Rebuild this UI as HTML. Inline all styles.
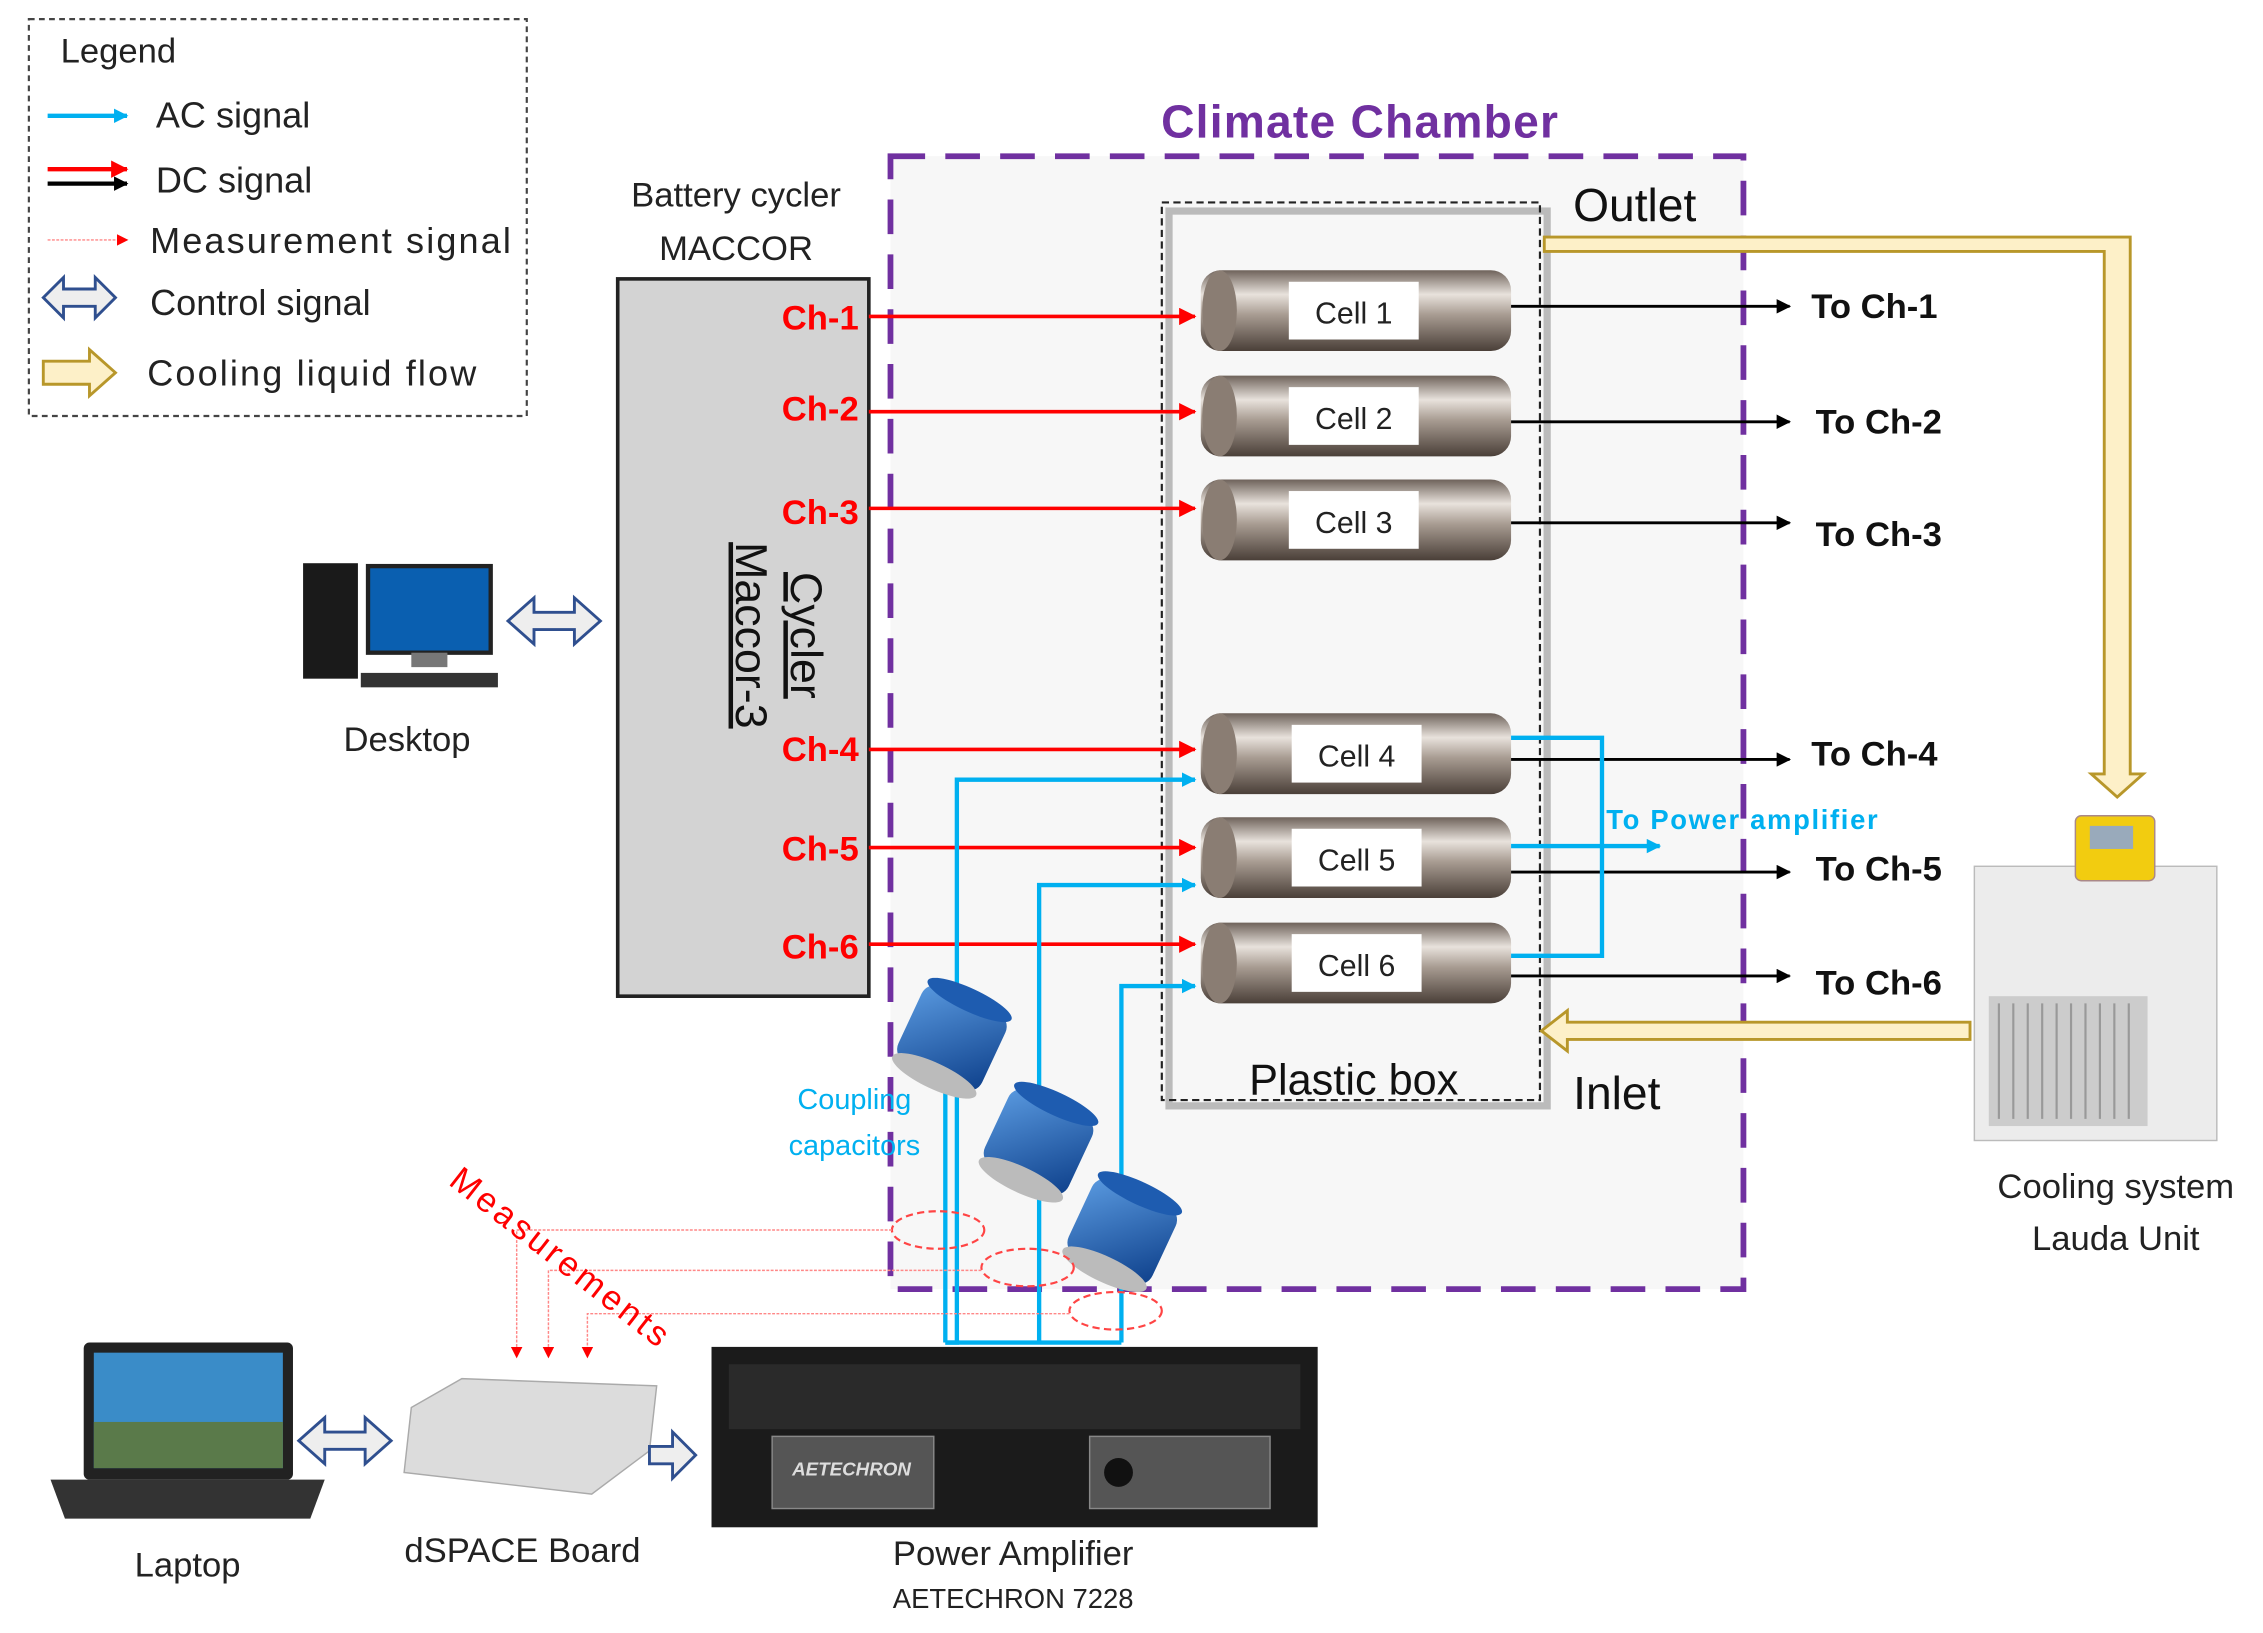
<!DOCTYPE html>
<html><head><meta charset="utf-8"><style>
html,body{margin:0;padding:0;background:#fff}
svg{display:block}
text{font-family:"Liberation Sans",sans-serif}
</style></head><body>
<svg width="2263" height="1633" viewBox="0 0 1568 1131" xmlns="http://www.w3.org/2000/svg">
<defs>
<marker id="ar" markerWidth="8" markerHeight="8" refX="7" refY="4" orient="auto" markerUnits="userSpaceOnUse"><path d="M0,0 L8,4 L0,8z" fill="#f00"/></marker>
<marker id="ab" markerWidth="10" markerHeight="10" refX="9" refY="5" orient="auto" markerUnits="userSpaceOnUse"><path d="M0,0 L10,5 L0,10z" fill="#000"/></marker>
<marker id="ac" markerWidth="10" markerHeight="10" refX="9" refY="5" orient="auto" markerUnits="userSpaceOnUse"><path d="M0,0 L10,5 L0,10z" fill="#00b0f0"/></marker>
<marker id="arr" markerWidth="12" markerHeight="12" refX="11" refY="6" orient="auto" markerUnits="userSpaceOnUse"><path d="M0,0 L12,6 L0,12z" fill="#f00"/></marker>
<linearGradient id="cyl" x1="0" y1="0" x2="0" y2="1"><stop offset="0" stop-color="#6e625a"/><stop offset="0.3" stop-color="#e8e2dc"/><stop offset="0.55" stop-color="#a89c92"/><stop offset="1" stop-color="#4a3f38"/></linearGradient>
<linearGradient id="cap" x1="0" y1="0" x2="1" y2="1"><stop offset="0" stop-color="#5a9ae0"/><stop offset="1" stop-color="#0d3f8a"/></linearGradient>
</defs>

<rect x="20" y="13" width="345" height="275" fill="#fff" stroke="#444" stroke-width="1.5" stroke-dasharray="4,3"/>
<text x="42" y="43" font-size="24" fill="#222">Legend</text>
<line x1="33" y1="80" x2="88" y2="80" stroke="#00b0f0" stroke-width="3" marker-end="url(#ac)"/>
<text x="108" y="88" font-size="25" fill="#222">AC signal</text>
<line x1="33" y1="117" x2="88" y2="117" stroke="#f00" stroke-width="3" marker-end="url(#arr)"/>
<line x1="33" y1="127" x2="88" y2="127" stroke="#000" stroke-width="3" marker-end="url(#ab)"/>
<text x="108" y="133" font-size="25" fill="#222">DC signal</text>
<line x1="33" y1="166" x2="88" y2="166" stroke="#f88" stroke-width="1" stroke-dasharray="2,1" marker-end="url(#ar)"/>
<text x="104" y="175" font-size="25" fill="#222" textLength="250">Measurement signal</text>
<path d="M30,206 L44,192 L44,200 L66,200 L66,192 L80,206 L66,220 L66,212 L44,212 L44,220z" fill="#eee" stroke="#2f4f8f" stroke-width="2"/>
<text x="104" y="218" font-size="25" fill="#222">Control signal</text>
<path d="M30,250 L62,250 L62,242 L80,258 L62,274 L62,266 L30,266z" fill="#fdf0c8" stroke="#b8972a" stroke-width="2"/>
<text x="102" y="267" font-size="25" fill="#222" textLength="228">Cooling liquid flow</text>

<rect x="617" y="108" width="591" height="785" fill="#f7f7f7" stroke="#7030a0" stroke-width="4" stroke-dasharray="24,14"/>
<text x="942" y="95" font-size="32" font-weight="bold" fill="#7030a0" text-anchor="middle" textLength="275">Climate Chamber</text>

<rect x="810" y="146" width="262" height="620" fill="none" stroke="#bbb" stroke-width="5"/>
<rect x="805" y="140" width="262" height="622" fill="none" stroke="#222" stroke-width="1.5" stroke-dasharray="5,3"/>
<text x="938" y="758" font-size="30" fill="#111" text-anchor="middle">Plastic box</text>
<text x="1090" y="153" font-size="32" fill="#111">Outlet</text>
<text x="1090" y="768" font-size="32" fill="#111">Inlet</text>

<text x="510" y="143" font-size="24" fill="#222" text-anchor="middle">Battery cycler</text>
<text x="510" y="180" font-size="24" fill="#222" text-anchor="middle">MACCOR</text>
<rect x="428" y="193" width="174" height="497" fill="#d3d3d3" stroke="#222" stroke-width="2.5"/>
<g transform="translate(500,440) rotate(90)">
<text x="0" y="-48" font-size="31" fill="#111" text-anchor="middle" text-decoration="underline">Cycler</text>
<text x="0" y="-10" font-size="31" fill="#111" text-anchor="middle" text-decoration="underline">Maccor-3</text>
</g>
<g font-size="24" font-weight="bold" fill="#f00" text-anchor="end">
<text x="595" y="228">Ch-1</text><text x="595" y="291">Ch-2</text><text x="595" y="363">Ch-3</text>
<text x="595" y="527">Ch-4</text><text x="595" y="596">Ch-5</text><text x="595" y="664">Ch-6</text>
</g>
<g stroke="#f00" stroke-width="2.5">
<line x1="602" y1="219" x2="828" y2="219" marker-end="url(#arr)"/>
<line x1="602" y1="285" x2="828" y2="285" marker-end="url(#arr)"/>
<line x1="602" y1="352" x2="828" y2="352" marker-end="url(#arr)"/>
<line x1="602" y1="519" x2="828" y2="519" marker-end="url(#arr)"/>
<line x1="602" y1="587" x2="828" y2="587" marker-end="url(#arr)"/>
<line x1="602" y1="654" x2="828" y2="654" marker-end="url(#arr)"/>
</g>

<g>
<g transform="translate(0,215)"><rect x="832" y="-28" width="215" height="56" rx="14" fill="url(#cyl)"/><ellipse cx="845" cy="0" rx="12" ry="28" fill="#8a7d73"/><rect x="893" y="-20" width="90" height="40" fill="#fff"/><text x="938" y="9" font-size="21" text-anchor="middle" fill="#222">Cell 1</text></g>
<g transform="translate(0,288)"><rect x="832" y="-28" width="215" height="56" rx="14" fill="url(#cyl)"/><ellipse cx="845" cy="0" rx="12" ry="28" fill="#8a7d73"/><rect x="893" y="-20" width="90" height="40" fill="#fff"/><text x="938" y="9" font-size="21" text-anchor="middle" fill="#222">Cell 2</text></g>
<g transform="translate(0,360)"><rect x="832" y="-28" width="215" height="56" rx="14" fill="url(#cyl)"/><ellipse cx="845" cy="0" rx="12" ry="28" fill="#8a7d73"/><rect x="893" y="-20" width="90" height="40" fill="#fff"/><text x="938" y="9" font-size="21" text-anchor="middle" fill="#222">Cell 3</text></g>
<g transform="translate(0,522)"><rect x="832" y="-28" width="215" height="56" rx="14" fill="url(#cyl)"/><ellipse cx="845" cy="0" rx="12" ry="28" fill="#8a7d73"/><rect x="895" y="-20" width="90" height="40" fill="#fff"/><text x="940" y="9" font-size="21" text-anchor="middle" fill="#222">Cell 4</text></g>
<g transform="translate(0,594)"><rect x="832" y="-28" width="215" height="56" rx="14" fill="url(#cyl)"/><ellipse cx="845" cy="0" rx="12" ry="28" fill="#8a7d73"/><rect x="895" y="-20" width="90" height="40" fill="#fff"/><text x="940" y="9" font-size="21" text-anchor="middle" fill="#222">Cell 5</text></g>
<g transform="translate(0,667)"><rect x="832" y="-28" width="215" height="56" rx="14" fill="url(#cyl)"/><ellipse cx="845" cy="0" rx="12" ry="28" fill="#8a7d73"/><rect x="895" y="-20" width="90" height="40" fill="#fff"/><text x="940" y="9" font-size="21" text-anchor="middle" fill="#222">Cell 6</text></g>
</g>

<g stroke="#000" stroke-width="2">
<line x1="1047" y1="212" x2="1240" y2="212" marker-end="url(#ab)"/>
<line x1="1047" y1="292" x2="1240" y2="292" marker-end="url(#ab)"/>
<line x1="1047" y1="362" x2="1240" y2="362" marker-end="url(#ab)"/>
<line x1="1047" y1="526" x2="1240" y2="526" marker-end="url(#ab)"/>
<line x1="1047" y1="604" x2="1240" y2="604" marker-end="url(#ab)"/>
<line x1="1047" y1="676" x2="1240" y2="676" marker-end="url(#ab)"/>
</g>
<g font-size="24" font-weight="bold" fill="#111">
<text x="1255" y="220">To Ch-1</text><text x="1258" y="300">To Ch-2</text><text x="1258" y="378">To Ch-3</text>
<text x="1255" y="530">To Ch-4</text><text x="1258" y="610">To Ch-5</text><text x="1258" y="689">To Ch-6</text>
</g>

<g stroke="#00b0f0" stroke-width="3" fill="none">
<polyline points="655,930 663,930 663,540 828,540" marker-end="url(#ac)"/>
<polyline points="720,930 720,613 828,613" marker-end="url(#ac)"/>
<polyline points="777,930 777,683 828,683" marker-end="url(#ac)"/>
<line x1="655" y1="930" x2="777" y2="930"/>
<line x1="655" y1="930" x2="655" y2="745" marker-end="url(#ac)"/>
<polyline points="1047,511 1110,511 1110,662 1047,662"/>
<line x1="1047" y1="586" x2="1150" y2="586" marker-end="url(#ac)"/>
</g>
<text x="1113" y="574" font-size="19" font-weight="bold" fill="#00b0f0" textLength="188">To Power amplifier</text>

<path d="M1070,164 L1476,164 L1476,536 L1485,536 L1467,552 L1449,536 L1458,536 L1458,174 L1070,174z" fill="#fdf0c8" stroke="#b8972a" stroke-width="2"/>
<path d="M1365,708 L1086,708 L1086,700 L1068,714 L1086,728 L1086,720 L1365,720z" fill="#fdf0c8" stroke="#b8972a" stroke-width="2"/>

<rect x="1368" y="600" width="168" height="190" fill="#ececec" stroke="#bbb"/>
<rect x="1378" y="690" width="110" height="90" fill="#ccc"/>
<g stroke="#999" stroke-width="1.5"><line x1="1385" y1="695" x2="1385" y2="775"/><line x1="1395" y1="695" x2="1395" y2="775"/><line x1="1405" y1="695" x2="1405" y2="775"/><line x1="1415" y1="695" x2="1415" y2="775"/><line x1="1425" y1="695" x2="1425" y2="775"/><line x1="1435" y1="695" x2="1435" y2="775"/><line x1="1445" y1="695" x2="1445" y2="775"/><line x1="1455" y1="695" x2="1455" y2="775"/><line x1="1465" y1="695" x2="1465" y2="775"/><line x1="1475" y1="695" x2="1475" y2="775"/></g>
<rect x="1438" y="565" width="55" height="45" fill="#f2cc10" stroke="#a88" rx="4"/>
<rect x="1448" y="572" width="30" height="16" fill="#9ab"/>
<text x="1466" y="830" font-size="24" fill="#222" text-anchor="middle">Cooling system</text>
<text x="1466" y="866" font-size="24" fill="#222" text-anchor="middle">Lauda Unit</text>

<rect x="210" y="390" width="38" height="80" fill="#1a1a1a"/>
<rect x="255" y="392" width="85" height="60" fill="#0a5fb0" stroke="#222" stroke-width="3"/>
<rect x="285" y="452" width="25" height="10" fill="#777"/>
<rect x="250" y="466" width="95" height="10" fill="#333"/>
<path d="M352,430 L370,414 L370,424 L398,424 L398,414 L416,430 L398,446 L398,436 L370,436 L370,446z" fill="#eee" stroke="#2f4f8f" stroke-width="2"/>
<text x="282" y="520" font-size="24" fill="#222" text-anchor="middle">Desktop</text>

<g transform="rotate(25 660 718)"><rect x="628" y="690" width="64" height="58" rx="10" fill="url(#cap)"/><ellipse cx="660" cy="748" rx="32" ry="9" fill="#bbb"/><ellipse cx="660" cy="690" rx="32" ry="8" fill="#1e5cb0"/></g>
<g transform="rotate(25 720 790)"><rect x="688" y="762" width="64" height="58" rx="10" fill="url(#cap)"/><ellipse cx="720" cy="820" rx="32" ry="9" fill="#bbb"/><ellipse cx="720" cy="762" rx="32" ry="8" fill="#1e5cb0"/></g>
<g transform="rotate(25 778 852)"><rect x="746" y="824" width="64" height="58" rx="10" fill="url(#cap)"/><ellipse cx="778" cy="882" rx="32" ry="9" fill="#bbb"/><ellipse cx="778" cy="824" rx="32" ry="8" fill="#1e5cb0"/></g>
<text x="592" y="768" font-size="20" fill="#00b0f0" text-anchor="middle">Coupling</text>
<text x="592" y="800" font-size="20" fill="#00b0f0" text-anchor="middle">capacitors</text>

<g fill="none" stroke="#f44" stroke-width="1.5" stroke-dasharray="5,3">
<ellipse cx="650" cy="852" rx="32" ry="13"/><ellipse cx="712" cy="878" rx="32" ry="13"/><ellipse cx="773" cy="908" rx="32" ry="13"/>
</g>
<g stroke="#f88" stroke-width="1" stroke-dasharray="2,1" fill="none">
<polyline points="618,852 358,852 358,940" marker-end="url(#ar)"/>
<polyline points="680,880 380,880 380,940" marker-end="url(#ar)"/>
<polyline points="741,910 407,910 407,940" marker-end="url(#ar)"/>
</g>
<text transform="translate(310,820) rotate(38)" font-size="24" fill="#f00" textLength="185">Measurements</text>

<rect x="58" y="930" width="145" height="95" fill="#222" rx="4"/>
<rect x="65" y="937" width="131" height="80" fill="#3a8cc8"/>
<rect x="65" y="985" width="131" height="32" fill="#5a7a4a"/>
<path d="M35,1025 L225,1025 L215,1052 L45,1052z" fill="#333"/>
<text x="130" y="1092" font-size="24" fill="#222" text-anchor="middle">Laptop</text>
<path d="M207,998 L225,982 L225,992 L253,992 L253,982 L271,998 L253,1014 L253,1004 L225,1004 L225,1014z" fill="#eee" stroke="#2f4f8f" stroke-width="2"/>

<path d="M285,975 L320,955 L455,960 L450,1005 L410,1035 L280,1020z" fill="#dcdcdc" stroke="#aaa"/>
<text x="362" y="1082" font-size="24" fill="#222" text-anchor="middle">dSPACE Board</text>
<path d="M450,1002 L466,1002 L466,992 L482,1008 L466,1024 L466,1014 L450,1014z" fill="#eee" stroke="#2f4f8f" stroke-width="2"/>

<rect x="493" y="933" width="420" height="125" fill="#1b1b1b"/>
<rect x="505" y="945" width="396" height="45" fill="#2a2a2a"/>
<rect x="535" y="995" width="112" height="50" fill="#555" stroke="#888"/>
<text x="590" y="1022" font-size="13" font-weight="bold" font-style="italic" fill="#ddd" text-anchor="middle">AETECHRON</text>
<rect x="755" y="995" width="125" height="50" fill="#555" stroke="#888"/>
<circle cx="775" cy="1020" r="10" fill="#111"/>
<text x="702" y="1084" font-size="24" fill="#222" text-anchor="middle">Power Amplifier</text>
<text x="702" y="1114" font-size="19" fill="#222" text-anchor="middle">AETECHRON 7228</text>
</svg>
</body></html>
